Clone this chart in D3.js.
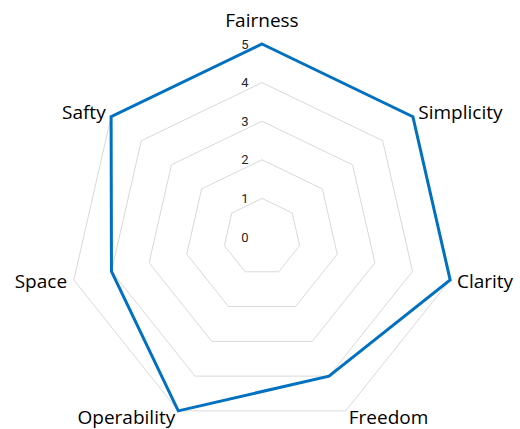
<!DOCTYPE html>
<html>
<head>
<meta charset="utf-8">
<script src="https://cdn.jsdelivr.net/npm/d3@7"></script>
<style>
  body { margin: 0; background: #fff; }
</style>
</head>
<body>
<svg width="520" height="429"></svg>
<script>
const width = 520, height = 429

// data
const categories = ['Fairness', 'Simplicity', 'Clarity', 'Freedom', 'Operability', 'Space', 'Safty']
const values = [5, 5, 5, 4, 5, 4, 5]
const ticks = [0, 1, 2, 3, 4, 5]

const cx = 262, cy = 237
const svg = d3.select('svg')

const r = d3.scaleLinear().domain([0, 5]).range([0, 193])
const angle = d3.scaleLinear().domain([0, categories.length]).range([0, 2 * Math.PI])

function point(i, v) {
    const a = angle(i)
    return [cx + r(v) * Math.sin(a), cy - r(v) * Math.cos(a)]
}

// grid rings (no ring at 0)
svg.append('g')
    .selectAll('polygon')
    .data(ticks.filter(t => t > 0))
    .enter()
    .append('polygon')
    .attr('points', t => categories.map((c, i) => point(i, t).join(',')).join(' '))
    .attr('fill', 'none')
    .attr('stroke', '#d9d9d9')
    .attr('stroke-width', 1)

// tick labels
svg.append('g')
    .selectAll('text')
    .data(ticks)
    .enter()
    .append('text')
    .attr('x', cx - 17)
    .attr('y', t => cy - r(t))
    .attr('dy', '0.35em')
    .attr('text-anchor', 'middle')
    .style('font-family', 'Roboto')
    .style('font-size', '13px')
    .style('fill', '#262626')
    .text(d => d)

// data line
const line = d3.lineRadial()
    .angle((d, i) => angle(i))
    .radius(d => r(d))
    .curve(d3.curveLinearClosed)

svg.append('path')
    .datum(values)
    .attr('transform', `translate(${cx},${cy})`)
    .attr('d', line)
    .attr('fill', 'none')
    .attr('stroke', '#0070c0')
    .attr('stroke-width', 3)
    .attr('stroke-linejoin', 'miter')

// category labels
svg.append('g')
    .selectAll('text')
    .data(categories)
    .enter()
    .append('text')
    .attr('x', (d, i) => point(i, 5.18)[0])
    .attr('y', (d, i) => point(i, 5.18)[1])
    .attr('dy', (d, i) => i === 0 ? '-0.55em' : '0.35em')
    .attr('text-anchor', (d, i) => {
        const s = Math.sin(angle(i))
        return s > 0.1 ? 'start' : s < -0.1 ? 'end' : 'middle'
    })
    .style('font-family', 'Open Sans')
    .style('font-size', '19px')
    .style('fill', '#000')
    .text(d => d)
</script>
</body>
</html>
